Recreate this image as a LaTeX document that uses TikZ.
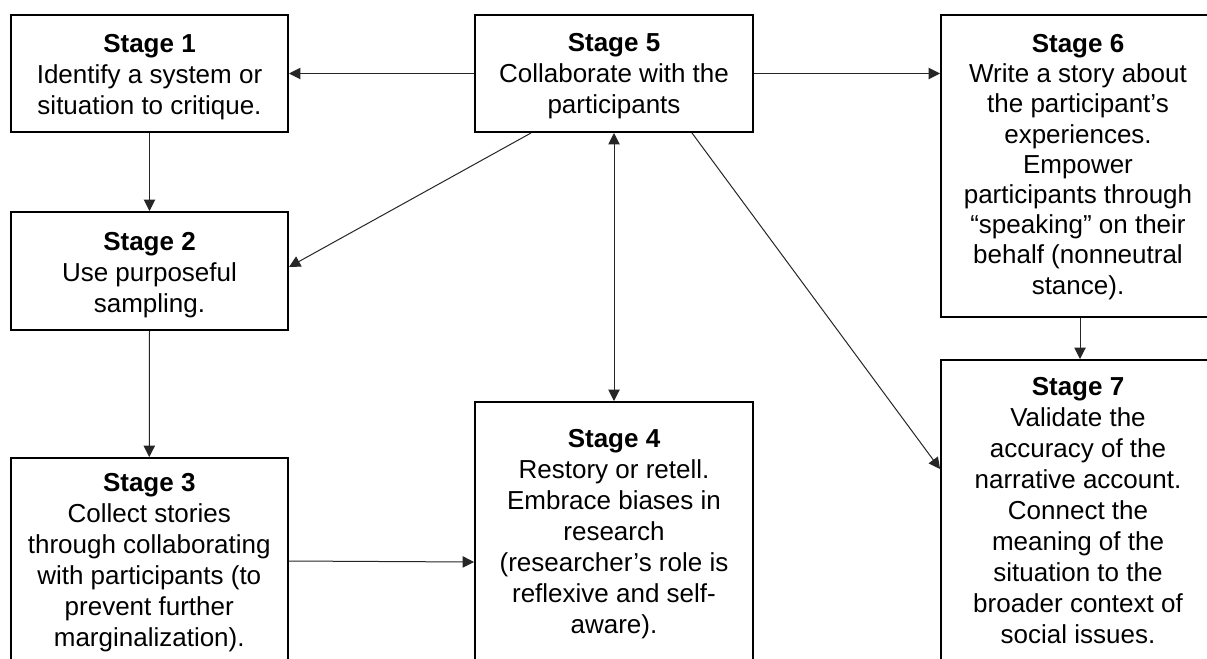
\documentclass[tikz,border=0pt]{standalone}
\usepackage{fontspec}
\setmainfont{Liberation Sans}
\usetikzlibrary{arrows.meta,calc}
\tikzset{
  stagebox/.style={draw=black, line width=1.5pt, rectangle, inner sep=0pt, fill=white},
  stagetext/.style={align=center, inner sep=0pt, anchor=north, text=black,
    font=\fontsize{19.5pt}{23.25pt}\selectfont},
  arr/.style={draw=black!85, line width=0.75pt, -{Triangle[length=8.5pt,width=8.5pt]}},
  darr/.style={draw=black!85, line width=0.75pt, {Triangle[length=8.5pt,width=8.5pt]}-{Triangle[length=8.5pt,width=8.5pt]}}
}
\begin{document}
\begin{tikzpicture}[x=0.75pt,y=-0.75pt]
\useasboundingbox (0,0) rectangle (1207,658);
\clip (0,0) rectangle (1207,658);
\fill[white] (0,0) rectangle (1207,658);
% boxes
\node[stagebox, minimum width=207.75pt, minimum height=87.75pt] (s1) at (149.5,73.5) {};
\node[stagebox, minimum width=208.5pt, minimum height=87.75pt] (s5) at (614,73.5) {};
\node[stagebox, minimum width=205.5pt, minimum height=226.125pt] (s6) at (1078,165.75) {};
\node[stagebox, minimum width=207.75pt, minimum height=88.5pt] (s2) at (149.5,271) {};
\node[stagebox, minimum width=207.375pt, minimum height=181.5pt] (s3) at (149.25,579) {};
\node[stagebox, minimum width=208.5pt, minimum height=223.5pt] (s4) at (614,551) {};
\node[stagebox, minimum width=205.5pt, minimum height=255pt] (s7) at (1078,530) {};
% texts
\node[stagetext] (t1) at ($(s1.north)+(0,20)$) {\textbf{Stage 1}\\Identify a system or\\situation to critique.};
\node[stagetext] (t5) at ($(s5.north)+(0,19)$) {\textbf{Stage 5}\\Collaborate with the\\participants};
\node[stagetext, font=\fontsize{19.5pt}{22.65pt}\selectfont] (t6) at ($(s6.north)+(0,20)$) {\textbf{Stage 6}\\Write a story about\\the participant’s\\experiences.\\Empower\\participants through\\“speaking” on their\\behalf (nonneutral\\stance).};
\node[stagetext] (t2) at ($(s2.north)+(0,21)$) {\textbf{Stage 2}\\Use purposeful\\sampling.};
\node[stagetext] (t3) at ($(s3.north)+(0,16)$) {\textbf{Stage 3}\\Collect stories\\through collaborating\\with participants (to\\prevent further\\marginalization).};
\node[stagetext] (t4) at ($(s4.north)+(0,28)$) {\textbf{Stage 4}\\Restory or retell.\\Embrace biases in\\research\\(researcher’s role is\\reflexive and self-\\aware).};
\node[stagetext] (t7) at ($(s7.north)+(0,18)$) {\textbf{Stage 7}\\Validate the\\accuracy of the\\narrative account.\\Connect the\\meaning of the\\situation to the\\broader context of\\social issues.};
% connectors
\draw[arr] (s5.west) -- (s1.east);
\draw[arr] (s5.east) -- (s5.east -| s6.west);
\draw[arr] (s1.south) -- (s2.north);
\draw[arr] (s2.south) -- (s3.north);
\draw[arr] ($(s5.south west)+(57,0)$) -- ($(s2.east)+(0,-4)$);
\draw[darr] (s5.south) -- (s4.north);
\draw[arr] ($(s5.south west)+(218,0)$) -- ($(s7.north west)+(0,110)$);
\draw[arr] ($(s6.south west)+(140,0)$) -- ($(s7.north west)+(140,0)$);
\draw[arr] ($(s3.north east)+(0,104)$) -- ($(s4.north west)+(0,161)$);
\end{tikzpicture}
\end{document}
